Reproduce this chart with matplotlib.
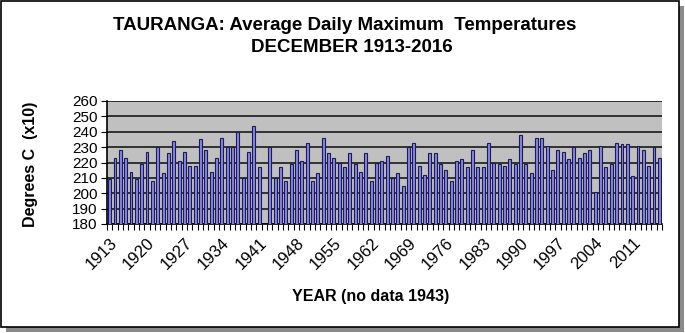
import numpy as np
import matplotlib
matplotlib.use("Agg")
import matplotlib.pyplot as plt
from matplotlib.patches import Rectangle

years = list(range(1913, 2017))
temps = [209, 223, 228, 223, 214, 209, 219, 227, 208, 230,
         213, 226, 234, 221, 227, 218, 218, 235, 228, 214,
         223, 236, 230, 230, 240, 210, 227, 244, 217, None,
         230, 210, 217, 208, 219, 228, 221, 233, 208, 213,
         236, 226, 223, 220, 217, 226, 219, 214, 226, 208,
         220, 221, 224, 210, 213, 205, 230, 233, 218, 212,
         226, 226, 219, 215, 208, 221, 222, 217, 228, 217,
         217, 233, 220, 219, 218, 222, 219, 238, 219, 213,
         236, 236, 231, 215, 228, 227, 222, 230, 223, 226,
         228, 201, 231, 217, 219, 233, 232, 232, 211, 231,
         228, 218, 230, 223]
label_years = years[::7]
yticks = [180, 190, 200, 210, 220, 230, 240, 250, 260]

title1 = "TAURANGA: Average Daily Maximum  Temperatures"
title2 = "DECEMBER 1913-2016"
xlabel = "YEAR (no data 1943)"
ylabel = "Degrees C  (x10)"

plt.rcParams['font.family'] = ['Liberation Sans', 'DejaVu Sans']

W, H = 685, 333
fig = plt.figure(figsize=(W / 100, H / 100), dpi=100)

def px_rect(x0, y0, x1, y1, **kw):
    return Rectangle((x0 / W, 1 - y1 / H), (x1 - x0) / W, (y1 - y0) / H,
                     transform=fig.transFigure, **kw)

fig.patches.append(px_rect(6, 6, 684, 332, facecolor='#8a8a8a', edgecolor='none', zorder=-10))
fig.patches.append(px_rect(1, 1, 679, 327, facecolor='white', edgecolor='black',
                           linewidth=1.2, zorder=-9))

left, right, top, bottom = 107, 662, 101, 224
ax = fig.add_axes([left / W, 1 - bottom / H, (right - left) / W, (bottom - top) / H])
ax.set_facecolor('#C0C0C0')

x = np.arange(len(years))
vals = np.array([np.nan if v is None else v for v in temps], dtype=float)
ax.bar(x, vals, width=0.55, color='#8484EC', edgecolor='#1c1c50', linewidth=0.8, zorder=3)

ax.set_xlim(-0.5, len(years) - 0.5)
ax.set_ylim(180, 260)
ax.set_yticks(yticks)
ax.set_yticklabels([str(v) for v in yticks], fontsize=11)
ax.yaxis.grid(True, color='#1a1a1a', linewidth=1.2, zorder=1)
ax.set_axisbelow(True)

lab_pos = [years.index(y) for y in label_years]
ax.set_xticks(lab_pos)
ax.set_xticklabels([str(y) for y in label_years], rotation=45, ha='right',
                   va='top', rotation_mode='anchor', fontsize=12)
ax.set_xticks(np.arange(-0.5, len(years), 1.0), minor=True)
ax.tick_params(axis='x', which='major', length=0, pad=8)
ax.tick_params(axis='x', which='minor', length=4, width=0.8, color='black')
ax.tick_params(axis='y', which='major', length=4, width=0.8, pad=3)

for s in ['top', 'right']:
    ax.spines[s].set_visible(False)
ax.spines['left'].set_color('black')
ax.spines['bottom'].set_color('black')
ax.spines['left'].set_linewidth(1.2)
ax.spines['bottom'].set_linewidth(1.2)

fig.text(345 / W, 1 - 25 / H, title1, ha='center', va='center', fontsize=13.5,
         fontweight='bold')
fig.text(352 / W, 1 - 47 / H, title2, ha='center', va='center', fontsize=13.5,
         fontweight='bold')
fig.text(371 / W, 1 - 297 / H, xlabel, ha='center', va='center', fontsize=11.5,
         fontweight='bold')
fig.text(31 / W, 1 - 164 / H, ylabel, ha='center', va='center', fontsize=11.5,
         fontweight='bold', rotation=90)

fig.savefig('out.png', dpi=100)
